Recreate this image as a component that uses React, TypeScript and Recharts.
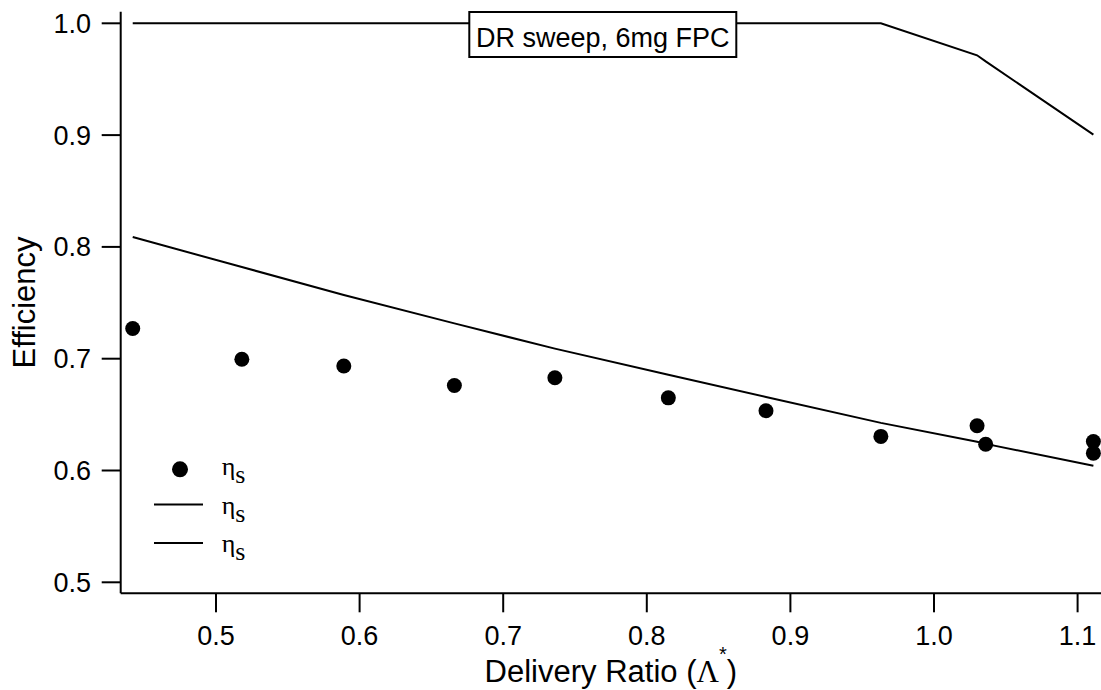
import React from 'react';
import { ComposedChart, Line, Scatter, XAxis, YAxis, Legend } from 'recharts';

// ---- data ----
const deliveryRatio = [0.442, 0.518, 0.589, 0.666, 0.736, 0.815, 0.883, 0.963, 1.030, 1.036, 1.111, 1.111];
const etaMeasured = [0.727, 0.6995, 0.6935, 0.676, 0.683, 0.665, 0.6535, 0.6305, 0.640, 0.6235, 0.626, 0.6155];

const modelRatio = [0.442, 0.518, 0.589, 0.666, 0.736, 0.815, 0.883, 0.963, 1.030, 1.036, 1.111];
const etaModelLower = [0.8088, 0.782, 0.757, 0.7316, 0.709, 0.6856, 0.6658, 0.6426, 0.6257, 0.6238, 0.6043];
const etaModelUpper = [1.0, 1.0, 1.0, 1.0, 1.0, 1.0, 1.0, 1.0, 0.9714, 0.9659, 0.9004];

const xTicks = [0.5, 0.6, 0.7, 0.8, 0.9, 1.0, 1.1];
const yTicks = [0.5, 0.6, 0.7, 0.8, 0.9, 1.0];

const titleText = 'DR sweep, 6mg FPC';
const xAxisTitle = 'Delivery Ratio (';
const yAxisTitle = 'Efficiency';
const legendItems = [
  { kind: 'marker', label: '\u03B7', sub: 's' },
  { kind: 'line', label: '\u03B7', sub: 's' },
  { kind: 'line', label: '\u03B7', sub: 's' },
];

const X_DOMAIN: [number, number] = [0.43363, 1.1163];
const Y_DOMAIN: [number, number] = [0.49016, 1.01038];

const scatterData = deliveryRatio.map((x, i) => ({ x, y: etaMeasured[i] }));
const lowerData = modelRatio.map((x, i) => ({ x, y: etaModelLower[i] }));
const upperData = modelRatio.map((x, i) => ({ x, y: etaModelUpper[i] }));

const SANS = '"Liberation Sans", Arial, sans-serif';
const SERIF = '"Liberation Serif", "Times New Roman", serif';

const XLabel = (props: any) => {
  const vb = props.viewBox || {};
  const cx = vb.x + vb.width / 2;
  const y = vb.y + 88.4;
  return (
    <text x={cx} y={y} textAnchor="middle" fill="#000" fontFamily={SANS} fontSize={31}>
      <tspan>{xAxisTitle}</tspan>
      <tspan fontFamily={SERIF}>{'\u039B'}</tspan>
      <tspan fontSize={20} dy={-21}>*</tspan>
      <tspan dy={21}>)</tspan>
    </text>
  );
};

const YLabel = (props: any) => {
  const vb = props.viewBox || {};
  const x = vb.x + 35;
  const y = vb.y + vb.height / 2;
  return (
    <text x={x} y={y} textAnchor="middle" fill="#000" fontFamily={SANS} fontSize={31}
      transform={`rotate(-90 ${x} ${y})`}>
      {yAxisTitle}
    </text>
  );
};

const LegendContent = () => (
  <svg width={130} height={120} style={{ display: 'block', overflow: 'visible' }}>
    {legendItems.map((it, i) => {
      const base = 25 + i * 38.5;
      return (
        <g key={i}>
          {it.kind === 'marker' ? (
            <circle cx={40} cy={base - 5.7} r={8} fill="#000" />
          ) : (
            <line x1={14} x2={63} y1={base - 9} y2={base - 9} stroke="#000" strokeWidth={2} />
          )}
          <text x={81.7} y={base} fontFamily={SERIF} fontSize={26} fill="#000">
            <tspan>{it.label}</tspan>
            <tspan dy={8} fontFamily={SERIF}>{it.sub}</tspan>
          </text>
        </g>
      );
    })}
  </svg>
);

const Dot = (p: any) => <circle cx={p.cx} cy={p.cy} r={7.5} fill="#000" />;

export default function App() {
  return (
    <div style={{ position: 'absolute', left: 0, top: 0, width: 1101, height: 690, background: '#fff' }}>
      <ComposedChart width={1101} height={690} margin={{ top: 11.7, right: 0, bottom: 0, left: 0 }}>
        <XAxis
          xAxisId="b"
          type="number"
          dataKey="x"
          domain={X_DOMAIN}
          allowDataOverflow
          ticks={xTicks}
          height={96.7}
          tickSize={19}
          tickMargin={14}
          axisLine={{ stroke: '#000', strokeWidth: 2 }}
          tickLine={{ stroke: '#000', strokeWidth: 2 }}
          tick={{ fill: '#000', fontSize: 27, fontFamily: SANS }}
          tickFormatter={(v: number) => v.toFixed(1)}
          label={<XLabel />}
        />
        <XAxis
          xAxisId="t"
          orientation="top"
          type="number"
          dataKey="x"
          domain={X_DOMAIN}
          allowDataOverflow
          height={0}
          tick={false}
          tickLine={false}
          axisLine={{ stroke: '#000', strokeWidth: 2 }}
        />
        <YAxis
          type="number"
          dataKey="y"
          domain={Y_DOMAIN}
          allowDataOverflow
          ticks={yTicks}
          width={120.7}
          tickSize={19}
          tickMargin={10.7}
          axisLine={{ stroke: '#000', strokeWidth: 2 }}
          tickLine={{ stroke: '#000', strokeWidth: 2 }}
          tick={{ fill: '#000', fontSize: 27, fontFamily: SANS }}
          tickFormatter={(v: number) => v.toFixed(1)}
          label={<YLabel />}
        />
        <Legend
          layout="vertical"
          align="center"
          verticalAlign="middle"
          content={<LegendContent />}
          wrapperStyle={{ left: 140, top: 450, width: 130, height: 120 }}
        />
        <Line xAxisId="b" data={upperData} dataKey="y" type="linear" stroke="#000" strokeWidth={2}
          dot={false} activeDot={false} isAnimationActive={false} name="upper" />
        <Line xAxisId="b" data={lowerData} dataKey="y" type="linear" stroke="#000" strokeWidth={2}
          dot={false} activeDot={false} isAnimationActive={false} name="lower" />
        <Scatter xAxisId="b" data={scatterData} dataKey="y" fill="#000" shape={<Dot />}
          isAnimationActive={false} name="measured" />
      </ComposedChart>
      <svg width={1101} height={690} style={{ position: 'absolute', left: 0, top: 0, pointerEvents: 'none' }}>
        <rect x={469.3} y={12} width={267} height={45} fill="#fff" stroke="#000" strokeWidth={2} />
        <text x={602.8} y={46.5} textAnchor="middle" fontFamily={SANS} fontSize={27} fill="#000">{titleText}</text>
      </svg>
    </div>
  );
}
